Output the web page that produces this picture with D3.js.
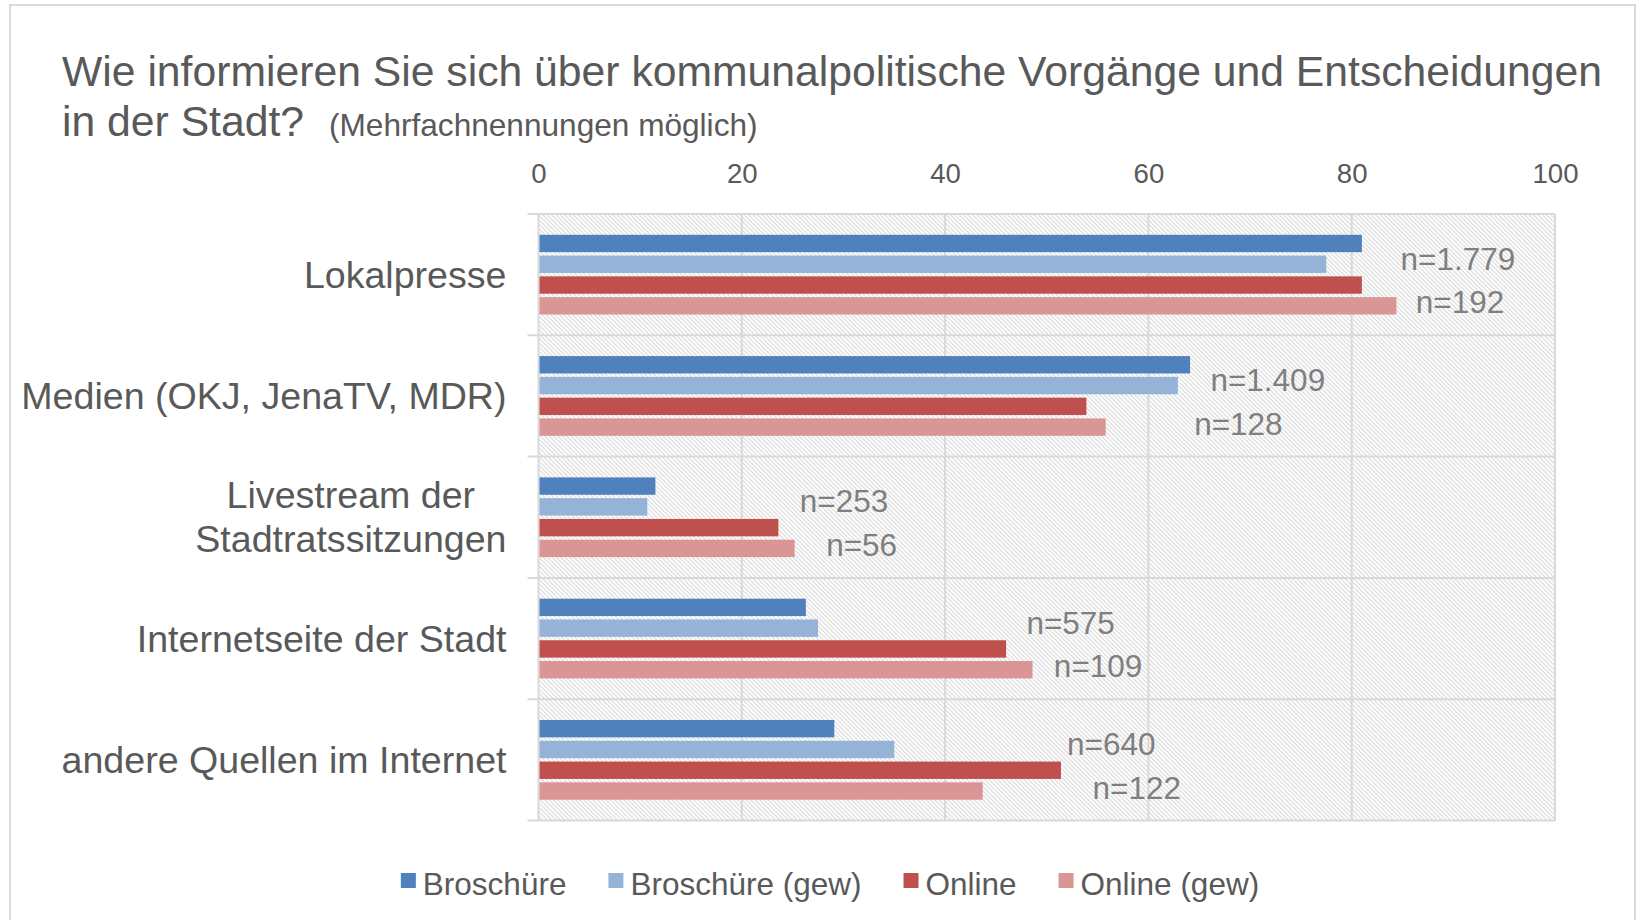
<!DOCTYPE html>
<html>
<head>
<meta charset="utf-8">
<script src="https://cdn.jsdelivr.net/npm/d3@7"></script>
<style>
  html, body { margin: 0; padding: 0; background: #fff; }
  svg { display: block; font-family: "Liberation Sans", Arial, sans-serif; }
</style>
</head>
<body>
<script>
'use strict';

var categories = ['Lokalpresse', 'Medien (OKJ, JenaTV, MDR)', 'Livestream der Stadtratssitzungen', 'Internetseite der Stadt', 'andere Quellen im Internet'];
var categoryLines = [['Lokalpresse'], ['Medien (OKJ, JenaTV, MDR)'], ['Livestream der', 'Stadtratssitzungen'], ['Internetseite der Stadt'], ['andere Quellen im Internet']];
var series = ['Broschüre', 'Broschüre (gew)', 'Online', 'Online (gew)'];
var colors = ['#4f81bd', '#95b3d7', '#c0504d', '#d99694'];

var broschuere    = [81.0, 64.1, 11.5, 26.3, 29.1];
var broschuereGew = [77.5, 62.9, 10.7, 27.5, 35.0];
var online        = [81.0, 53.9, 23.6, 46.0, 51.4];
var onlineGew     = [84.4, 55.8, 25.2, 48.6, 43.7];

// sample sizes, written next to the bars (anchor in axis units)
var nBroschuere   = ['n=1.779', 'n=1.409', 'n=253', 'n=575', 'n=640'];
var nBroschuereAt = [84.8, 66.1, 25.7, 48.0, 52.0];
var nOnline       = ['n=192', 'n=128', 'n=56', 'n=109', 'n=122'];
var nOnlineAt     = [86.3, 64.5, 28.3, 50.7, 54.5];

var ticks = [0, 20, 40, 60, 80, 100];

var W = 1642, H = 920;
var textColor = '#595959',
    gridColor = '#d9d9d9';

var svg = d3.select('body').append('svg')
  .attr('width', W)
  .attr('height', H);

var defs = svg.append('defs');
var hatch = defs.append('pattern')
  .attr('id', 'hatch')
  .attr('patternUnits', 'userSpaceOnUse')
  .attr('width', 3.1)
  .attr('height', 3.1)
  .attr('patternTransform', 'rotate(45)');
hatch.append('rect').attr('width', 3.1).attr('height', 3.1).attr('fill', '#fff');
hatch.append('line')
  .attr('x1', 0).attr('y1', 0.6).attr('x2', 3.1).attr('y2', 0.6)
  .attr('stroke', '#d9d9d9')
  .attr('stroke-width', 1.1);

// chart frame
svg.append('rect')
  .attr('x', 10).attr('y', 5)
  .attr('width', 1625).attr('height', 940)
  .attr('fill', 'none')
  .attr('stroke', gridColor)
  .attr('stroke-width', 2);

// title
var title = svg.append('text')
  .attr('fill', textColor)
  .attr('font-size', 42.7);
title.append('tspan').attr('x', 62).attr('y', 86)
  .text('Wie informieren Sie sich über kommunalpolitische Vorgänge und Entscheidungen');
title.append('tspan').attr('x', 62).attr('y', 136)
  .text('in der Stadt?');
svg.append('text')
  .attr('x', 329).attr('y', 136)
  .attr('fill', textColor)
  .attr('font-size', 31.6)
  .text('(Mehrfachnennungen möglich)');

var plot = { left: 538.5, right: 1555, top: 214, bottom: 820.5 };

var x = d3.scaleLinear().domain([0, 100]).range([plot.left, plot.right]);
var y = d3.scaleBand().domain(categories).range([plot.top, plot.bottom]);
var yInner = d3.scaleBand().domain(series).range([0, y.bandwidth()])
  .paddingInner(0.164)
  .paddingOuter(1.0);

var rows = categories.map(function (c, i) {
  return {
    category: c,
    lines: categoryLines[i],
    values: [broschuere[i], broschuereGew[i], online[i], onlineGew[i]]
  };
});

// plot background
svg.append('rect')
  .attr('x', plot.left).attr('y', plot.top)
  .attr('width', plot.right - plot.left)
  .attr('height', plot.bottom - plot.top)
  .attr('fill', 'url(#hatch)');

// vertical gridlines
svg.append('g').selectAll('line')
  .data(ticks)
  .join('line')
  .attr('x1', function (d) { return x(d); })
  .attr('x2', function (d) { return x(d); })
  .attr('y1', plot.top)
  .attr('y2', plot.bottom)
  .attr('stroke', gridColor)
  .attr('stroke-width', 2);

// category separators with tick marks
var bounds = categories.map(function (c) { return y(c); }).concat([plot.bottom]);
svg.append('g').selectAll('line')
  .data(bounds)
  .join('line')
  .attr('x1', plot.left - 11)
  .attr('x2', plot.right)
  .attr('y1', function (d) { return d; })
  .attr('y2', function (d) { return d; })
  .attr('stroke', gridColor)
  .attr('stroke-width', 2);

// top axis labels
var xAxis = d3.axisTop(x).tickValues(ticks).tickSize(0).tickPadding(0);
var gx = svg.append('g')
  .attr('transform', 'translate(0,' + 183 + ')')
  .call(xAxis);
gx.select('.domain').remove();
gx.selectAll('text')
  .attr('dy', 0)
  .attr('fill', textColor)
  .attr('font-size', 27.6)
  .attr('font-family', '"Liberation Sans", Arial, sans-serif');

// bars
var groups = svg.append('g').selectAll('g')
  .data(rows)
  .join('g')
  .attr('transform', function (d) { return 'translate(0,' + y(d.category) + ')'; });

groups.selectAll('rect')
  .data(function (d) { return d.values.map(function (v, k) { return { s: series[k], v: v, k: k }; }); })
  .join('rect')
  .attr('x', x(0) + 1)
  .attr('y', function (d) { return yInner(d.s); })
  .attr('width', function (d) { return x(d.v) - x(0) - 1; })
  .attr('height', yInner.bandwidth())
  .attr('fill', function (d) { return colors[d.k]; });

// n labels
groups.append('text')
  .attr('x', function (d, i) { return x(nBroschuereAt[i]); })
  .attr('y', y.bandwidth() * 0.36 + 12)
  .attr('fill', '#7f7f7f')
  .attr('font-size', 31.5)
  .text(function (d, i) { return nBroschuere[i]; });

groups.append('text')
  .attr('x', function (d, i) { return x(nOnlineAt[i]); })
  .attr('y', y.bandwidth() * 0.72 + 12)
  .attr('fill', '#7f7f7f')
  .attr('font-size', 31.5)
  .text(function (d, i) { return nOnline[i]; });

// category labels, multi-line labels centred on each other
var labelRight = plot.left - 32;
var lineGap = 44;
groups.each(function (d) {
  var g = d3.select(this);
  var n = d.lines.length;
  var t = g.append('text')
    .attr('fill', textColor)
    .attr('font-size', 37.6);
  var spans = t.selectAll('tspan')
    .data(d.lines)
    .join('tspan')
    .attr('y', function (l, j) { return y.bandwidth() / 2 + 13 + (j - (n - 1) / 2) * lineGap; })
    .text(function (l) { return l; });
  var widths = [];
  spans.each(function () { widths.push(this.getComputedTextLength()); });
  var maxW = d3.max(widths);
  spans.attr('x', function (l, j) { return labelRight - maxW + (maxW - widths[j]) / 2; });
});

// legend
var legend = svg.append('g').attr('transform', 'translate(0,895)');
var items = legend.selectAll('g')
  .data(series)
  .join('g');
items.append('rect')
  .attr('y', -22)
  .attr('width', 15)
  .attr('height', 15)
  .attr('fill', function (d, i) { return colors[i]; });
items.append('text')
  .attr('x', 22)
  .attr('fill', textColor)
  .attr('font-size', 31.5)
  .text(function (d) { return d; });

var pos = 0, offsets = [];
items.each(function () {
  offsets.push(pos);
  pos += 22 + d3.select(this).select('text').node().getComputedTextLength() + 42;
});
var total = pos - 42;
var startX = 830 - total / 2;
items.attr('transform', function (d, i) { return 'translate(' + (startX + offsets[i]) + ',0)'; });
</script>
</body>
</html>
